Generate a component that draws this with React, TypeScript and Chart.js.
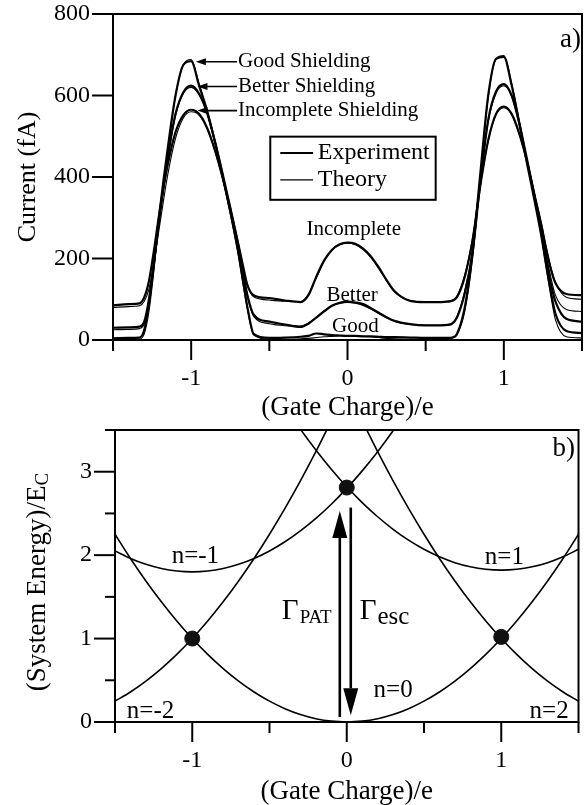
import React, { useEffect, useRef } from "react";
import { Chart, registerables } from "chart.js";

Chart.register(...registerables);

const FONT = "'Liberation Serif', 'Times New Roman', serif";

// ---------------- Panel a) data ----------------
const gateChargeA = [
  -1.5, -1.4, -1.33, -1.3, -1.27, -1.24, -1.2, -1.15, -1.1, -1.05, -1.0, -0.95, -0.9, -0.85, -0.8, -0.75,
  -0.7, -0.67, -0.64, -0.6, -0.5, -0.4, -0.3, -0.25, -0.2, -0.15, -0.1, -0.05, 0, 0.05, 0.1, 0.15, 0.2,
  0.25, 0.3, 0.4, 0.5, 0.6, 0.64, 0.67, 0.7, 0.75, 0.8, 0.85, 0.9, 0.95, 1.0, 1.05, 1.1, 1.15, 1.2, 1.24,
  1.27, 1.3, 1.33, 1.4, 1.5,
];
const goodExperiment = [
  4, 5, 6, 25, 90, 180, 320, 470, 600, 675, 684, 625, 565, 490, 405, 315,
  220, 150, 80, 15, 5, 6, 8, 10, 16, 14, 12, 11, 10, 10, 9, 9, 8,
  7, 7, 6, 5, 5, 5, 6, 15, 80, 215, 410, 600, 690, 695, 625, 530, 430, 335, 255,
  185, 120, 65, 22, 17,
];
const goodTheory = [
  0, 0, 2, 15, 70, 165, 310, 465, 600, 675, 688, 630, 565, 490, 400, 310,
  210, 140, 75, 12, 2, 2, 3, 4, 6, 8, 9, 10, 10, 10, 9, 8, 6,
  4, 3, 2, 2, 2, 3, 5, 12, 70, 200, 400, 595, 690, 698, 630, 535, 435, 340, 255,
  180, 110, 50, 8, 5,
];
const betterExperiment = [
  30, 31, 33, 45, 100, 185, 310, 450, 555, 608, 624, 605, 560, 490, 410, 325,
  235, 170, 110, 62, 45, 38, 32, 40, 55, 70, 84, 91, 94, 92, 88, 78, 67,
  56, 47, 39, 36, 36, 37, 40, 55, 115, 215, 390, 540, 610, 628, 600, 530, 440, 345, 265,
  200, 140, 95, 52, 45,
];
const betterTheory = [
  25, 26, 28, 40, 90, 175, 300, 440, 550, 605, 620, 602, 558, 488, 405, 318,
  228, 165, 105, 58, 40, 35, 34, 42, 56, 72, 84, 90, 92, 90, 85, 76, 65,
  54, 46, 38, 36, 36, 38, 42, 58, 120, 220, 390, 535, 605, 624, 598, 528, 440, 348, 270,
  210, 155, 110, 75, 70,
];
const incompleteExperiment = [
  85, 88, 90, 105, 145, 215, 320, 430, 510, 552, 565, 555, 522, 468, 400, 322,
  238, 185, 135, 110, 103, 97, 93, 110, 155, 195, 221, 235, 239, 236, 224, 205, 178,
  147, 120, 96, 93, 93, 94, 96, 105, 155, 245, 380, 490, 555, 573, 555, 505, 435, 350, 282,
  225, 175, 140, 113, 110,
];
const incompleteTheory = [
  80, 82, 84, 95, 125, 185, 285, 405, 495, 545, 560, 552, 520, 466, 398, 320,
  236, 182, 133, 106, 98, 95, 94, 112, 152, 192, 220, 234, 238, 234, 222, 202, 175,
  145, 118, 97, 94, 94, 95, 98, 108, 160, 250, 380, 488, 552, 570, 553, 503, 435, 352, 286,
  230, 180, 142, 105, 100,
];

const shieldingLabels = ["Good Shielding", "Better Shielding", "Incomplete Shielding"];
const shieldingLabelQ = [-0.70, -0.70, -0.70];
const shieldingLabelCurrent = [683, 622, 563];
const shieldingArrowTipQ = [-0.97, -0.96, -0.96];

const centerLabels = ["Incomplete", "Better", "Good"];
const centerLabelQ = [0.04, 0.03, 0.05];
const centerLabelCurrent = [270, 110, 34];

const legendLabels = ["Experiment", "Theory"];
const legendBoxQ = [-0.494, 0.564];
const legendBoxCurrent = [499, 344];
const legendRowCurrent = [459, 393];
const legendLineQ = [-0.43, -0.22];
const legendTextQ = -0.19;

// ---------------- Panel b) data ----------------
const gateChargeB = [
  -1.5, -1.4, -1.3, -1.2, -1.1, -1.0, -0.9, -0.8, -0.7, -0.6, -0.5, -0.4, -0.3, -0.2, -0.1, 0,
  0.1, 0.2, 0.3, 0.4, 0.5, 0.6, 0.7, 0.8, 0.9, 1.0, 1.1, 1.2, 1.3, 1.4, 1.5,
];
const energyN0 = [
  2.25, 1.96, 1.69, 1.44, 1.21, 1.0, 0.81, 0.64, 0.49, 0.36, 0.25, 0.16, 0.09, 0.04, 0.01, 0.0,
  0.01, 0.04, 0.09, 0.16, 0.25, 0.36, 0.49, 0.64, 0.81, 1.0, 1.21, 1.44, 1.69, 1.96, 2.25,
];
const energyNm1 = [
  2.05, 1.96, 1.89, 1.84, 1.81, 1.8, 1.81, 1.84, 1.89, 1.96, 2.05, 2.16, 2.29, 2.44, 2.61, 2.8,
  3.01, 3.24, 3.49, 3.76, null, null, null, null, null, null, null, null, null, null, null,
];
const energyN1 = [
  null, null, null, null, null, null, null, null, null, null, null, 3.78, 3.51, 3.26, 3.03, 2.82,
  2.63, 2.46, 2.31, 2.18, 2.07, 1.98, 1.91, 1.86, 1.83, 1.82, 1.83, 1.86, 1.91, 1.98, 2.07,
];
const energyNm2 = [
  0.25, 0.36, 0.49, 0.64, 0.81, 1.0, 1.21, 1.44, 1.69, 1.96, 2.25, 2.56, 2.89, 3.24, 3.61, null,
  null, null, null, null, null, null, null, null, null, null, null, null, null, null, null,
];
const energyN2 = [
  null, null, null, null, null, null, null, null, null, null, null, null, null, null, null, null,
  3.61, 3.24, 2.89, 2.56, 2.25, 1.96, 1.69, 1.44, 1.21, 1.0, 0.81, 0.64, 0.49, 0.36, 0.25,
];
const degeneracyQ = [-1, 0, 1];
const degeneracyE = [1.0, 2.81, 1.02];

const stateLabels = ["n=-1", "n=1", "n=0", "n=-2", "n=2"];
const stateLabelQ = [-0.98, 1.02, 0.30, -1.27, 1.31];
const stateLabelE = [1.98, 1.97, 0.38, 0.13, 0.13];

const arrowQ = [-0.045, 0.026];
const arrowFromE = [0.06, 2.57];
const arrowToE = [2.53, 0.08];

const rateMain = ["\u0393", "\u0393"];
const rateSub = ["PAT", "esc"];
const rateQ = [-0.42, 0.084];
const rateE = [1.32, 1.32];

// ---------------- shared helpers ----------------
const frameTicksPlugin = {
  id: "frameTicks",
  afterDatasetsDraw(chart: any) {
    const { ctx, chartArea: a, scales } = chart;
    ctx.save();
    ctx.strokeStyle = "#000";
    ctx.lineWidth = 2;
    ctx.strokeRect(a.left, a.top, a.right - a.left, a.bottom - a.top);
    const xs = scales.x;
    xs.ticks.forEach((t: any) => {
      const p = xs.getPixelForValue(t.value);
      const len = Number.isInteger(t.value) ? 20 : 11;
      ctx.beginPath();
      ctx.moveTo(p, a.bottom);
      ctx.lineTo(p, a.bottom + len);
      ctx.stroke();
    });
    const ys = scales.y;
    ys.ticks.forEach((t: any) => {
      const p = ys.getPixelForValue(t.value);
      const len = Number.isInteger(t.value) ? 21 : 10;
      ctx.beginPath();
      ctx.moveTo(a.left - len, p);
      ctx.lineTo(a.left, p);
      ctx.stroke();
    });
    ctx.restore();
  },
};

const panelAOverlay = {
  id: "panelAOverlay",
  afterDraw(chart: any) {
    const { ctx, scales } = chart;
    const px = (q: number) => scales.x.getPixelForValue(q);
    const py = (v: number) => scales.y.getPixelForValue(v);
    ctx.save();
    ctx.fillStyle = "#000";
    ctx.strokeStyle = "#000";
    ctx.textBaseline = "middle";
    ctx.font = `21px ${FONT}`;
    ctx.textAlign = "left";
    shieldingLabels.forEach((t, i) => {
      const tx = px(shieldingLabelQ[i]);
      const ty = py(shieldingLabelCurrent[i]);
      ctx.fillText(t, tx, ty);
      const tip = px(shieldingArrowTipQ[i]);
      ctx.lineWidth = 1.6;
      ctx.beginPath();
      ctx.moveTo(tx - 1, ty);
      ctx.lineTo(tip + 6, ty);
      ctx.stroke();
      ctx.beginPath();
      ctx.moveTo(tip, ty);
      ctx.lineTo(tip + 10, ty - 3.5);
      ctx.lineTo(tip + 10, ty + 3.5);
      ctx.closePath();
      ctx.fill();
    });
    ctx.textAlign = "center";
    centerLabels.forEach((t, i) => {
      ctx.fillText(t, px(centerLabelQ[i]), py(centerLabelCurrent[i]));
    });
    // legend box
    const bl = px(legendBoxQ[0]);
    const br = px(legendBoxQ[1]);
    const bt = py(legendBoxCurrent[0]);
    const bb = py(legendBoxCurrent[1]);
    ctx.lineWidth = 2;
    ctx.strokeRect(bl, bt, br - bl, bb - bt);
    ctx.font = `24px ${FONT}`;
    ctx.textAlign = "left";
    legendLabels.forEach((t, i) => {
      const ly = py(legendRowCurrent[i]);
      ctx.lineWidth = i === 0 ? 2 : 1.2;
      ctx.beginPath();
      ctx.moveTo(px(legendLineQ[0]), ly);
      ctx.lineTo(px(legendLineQ[1]), ly);
      ctx.stroke();
      ctx.fillText(t, px(legendTextQ), ly);
    });
    ctx.font = `27px ${FONT}`;
    ctx.textAlign = "right";
    ctx.fillText("a)", px(1.494), py(736));
    ctx.restore();
  },
};

const panelBOverlay = {
  id: "panelBOverlay",
  afterDraw(chart: any) {
    const { ctx, scales } = chart;
    const px = (q: number) => scales.x.getPixelForValue(q);
    const py = (v: number) => scales.y.getPixelForValue(v);
    ctx.save();
    ctx.fillStyle = "#000";
    ctx.strokeStyle = "#000";
    // arrows
    arrowQ.forEach((q, i) => {
      const x = px(q);
      const y0 = py(arrowFromE[i]);
      const y1 = py(arrowToE[i]);
      const dir = y1 < y0 ? -1 : 1;
      const head = 27;
      ctx.lineWidth = 2.6;
      ctx.beginPath();
      ctx.moveTo(x, y0);
      ctx.lineTo(x, y1 - dir * head);
      ctx.stroke();
      ctx.beginPath();
      ctx.moveTo(x, y1);
      ctx.lineTo(x - 7.5, y1 - dir * head);
      ctx.lineTo(x + 7.5, y1 - dir * head);
      ctx.closePath();
      ctx.fill();
    });
    // state labels
    ctx.textBaseline = "middle";
    ctx.textAlign = "center";
    ctx.font = `25px ${FONT}`;
    stateLabels.forEach((t, i) => {
      ctx.fillText(t, px(stateLabelQ[i]), py(stateLabelE[i]));
    });
    // rates
    ctx.textAlign = "left";
    rateMain.forEach((g, i) => {
      const x = px(rateQ[i]);
      const y = py(rateE[i]);
      ctx.font = `29px ${FONT}`;
      ctx.fillText(g, x, y);
      const w = ctx.measureText(g).width;
      ctx.font = `${i === 0 ? 19 : 25}px ${FONT}`;
      ctx.fillText(rateSub[i], x + w + 1, y + 6);
    });
    ctx.font = `27px ${FONT}`;
    ctx.textAlign = "right";
    ctx.fillText("b)", px(1.477), py(3.27));
    // y title with subscript
    const main = "(System Energy)/E";
    const sub = "C";
    ctx.font = `27px ${FONT}`;
    const w1 = ctx.measureText(main).width;
    ctx.font = `19px ${FONT}`;
    const w2 = ctx.measureText(sub).width;
    ctx.translate(38, (chart.chartArea.top + chart.chartArea.bottom) / 2 + 6);
    ctx.rotate(-Math.PI / 2);
    ctx.textAlign = "left";
    ctx.font = `27px ${FONT}`;
    ctx.fillText(main, -(w1 + w2) / 2, 0);
    ctx.font = `19px ${FONT}`;
    ctx.fillText(sub, -(w1 + w2) / 2 + w1, 5);
    ctx.restore();
  },
};

const tickFont = { family: FONT, size: 24 };
const integerLabel = (v: any) => (Number.isInteger(v) ? String(v) : "");

const fitX = (h: number) => (s: any) => {
  s.height = h;
  s.paddingLeft = 0;
  s.paddingRight = 0;
  s.paddingTop = 0;
  s.paddingBottom = 0;
};
const fitY = (w: number) => (s: any) => {
  s.width = w;
  s.paddingLeft = 0;
  s.paddingRight = 0;
  s.paddingTop = 0;
  s.paddingBottom = 0;
};

function lineSet(xs: number[], ys: (number | null)[], width: number) {
  return {
    type: "line" as const,
    data: xs.map((x, i) => ({ x, y: ys[i] })),
    borderColor: "#000",
    borderWidth: width,
    pointRadius: 0,
    fill: false,
    cubicInterpolationMode: "monotone" as const,
  };
}

export default function App() {
  const refA = useRef<HTMLCanvasElement>(null);
  const refB = useRef<HTMLCanvasElement>(null);

  useEffect(() => {
    const chartA = new Chart(refA.current as HTMLCanvasElement, {
      type: "line",
      data: {
        datasets: [
          lineSet(gateChargeA, goodTheory, 1.1),
          lineSet(gateChargeA, betterTheory, 1.1),
          lineSet(gateChargeA, incompleteTheory, 1.1),
          lineSet(gateChargeA, goodExperiment, 2.2),
          lineSet(gateChargeA, betterExperiment, 2.2),
          lineSet(gateChargeA, incompleteExperiment, 2.2),
        ] as any,
      },
      options: {
        animation: false,
        responsive: false,
        layout: { padding: { top: 14, right: 5, left: 0, bottom: 0 } },
        plugins: { legend: { display: false }, tooltip: { enabled: false } },
        scales: {
          x: {
            type: "linear",
            min: -1.5,
            max: 1.5,
            ticks: { stepSize: 0.5, callback: integerLabel, font: tickFont, color: "#000", padding: 24, maxRotation: 0, autoSkip: false },
            grid: { display: false, drawTicks: false },
            border: { display: false },
            title: { display: true, text: "(Gate Charge)/e", color: "#000", font: { family: FONT, size: 27, lineHeight: 1 }, padding: 0 },
            afterFit: fitX(81),
          },
          y: {
            type: "linear",
            min: 0,
            max: 800,
            ticks: { stepSize: 200, font: tickFont, color: "#000", padding: 23 },
            grid: { display: false, drawTicks: false },
            border: { display: false },
            title: { display: true, text: "Current (fA)", color: "#000", font: { family: FONT, size: 26, lineHeight: 1 }, padding: { top: 15, bottom: 0 } },
            afterFit: fitY(113),
          },
        },
      } as any,
      plugins: [frameTicksPlugin, panelAOverlay],
    });

    const chartB = new Chart(refB.current as HTMLCanvasElement, {
      type: "line",
      data: {
        datasets: [
          {
            type: "scatter",
            data: degeneracyQ.map((x, i) => ({ x, y: degeneracyE[i] })),
            pointRadius: 7.5,
            pointBackgroundColor: "#111",
            pointBorderColor: "#111",
            showLine: false,
          },
          lineSet(gateChargeB, energyN0, 1.6),
          lineSet(gateChargeB, energyNm1, 1.6),
          lineSet(gateChargeB, energyN1, 1.6),
          lineSet(gateChargeB, energyNm2, 1.6),
          lineSet(gateChargeB, energyN2, 1.6),
        ] as any,
      },
      options: {
        animation: false,
        responsive: false,
        layout: { padding: { top: 9, right: 5, left: 0, bottom: 0 } },
        plugins: { legend: { display: false }, tooltip: { enabled: false } },
        scales: {
          x: {
            type: "linear",
            min: -1.5,
            max: 1.5,
            ticks: { stepSize: 0.5, callback: integerLabel, font: tickFont, color: "#000", padding: 24, maxRotation: 0, autoSkip: false },
            grid: { display: false, drawTicks: false },
            border: { display: false },
            title: { display: true, text: "(Gate Charge)/e", color: "#000", font: { family: FONT, size: 27, lineHeight: 1 }, padding: 0 },
            afterFit: fitX(83),
          },
          y: {
            type: "linear",
            min: 0,
            max: 3.5,
            ticks: { stepSize: 0.5, callback: integerLabel, font: tickFont, color: "#000", padding: 23, autoSkip: false },
            grid: { display: false, drawTicks: false },
            border: { display: false },
            afterFit: fitY(115),
          },
        },
      } as any,
      plugins: [frameTicksPlugin, panelBOverlay],
    });

    return () => {
      chartA.destroy();
      chartB.destroy();
    };
  }, []);

  return (
    <div style={{ position: "absolute", left: 0, top: 0, width: 587, height: 805, background: "#fff", overflow: "hidden" }}>
      <canvas ref={refA} width={587} height={421} style={{ position: "absolute", left: 0, top: 0, width: 587, height: 421 }} />
      <canvas ref={refB} width={587} height={384} style={{ position: "absolute", left: 0, top: 421, width: 587, height: 384 }} />
    </div>
  );
}
